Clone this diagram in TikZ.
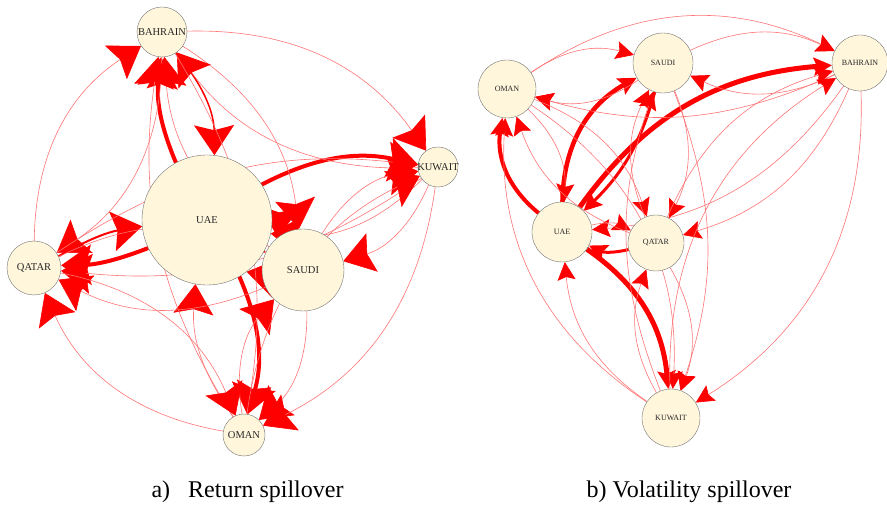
\documentclass[tikz,border=0pt]{standalone}
\usepackage{fontspec}
\setmainfont{Liberation Serif}
\usetikzlibrary{arrows.meta,backgrounds}

\definecolor{nodefill}{HTML}{FFF6DC}

\tikzset{
  country/.style={circle,draw=black!55,fill=nodefill,inner sep=0pt},
  spill/.style={draw=red!55,line width=.6pt},
  rethead/.style={spill,-{Stealth[color=red,length=30pt,width=40pt,inset=5pt]}},
  volhead/.style={spill,-{Stealth[color=red,length=18pt,width=18pt,inset=3pt]}},
  heavy/.style={draw=red,line width=#1},
}

\begin{document}
\begin{tikzpicture}[x=1pt,y=-1pt]
    \useasboundingbox (0,0) rectangle (887,505);

    % a) return spillover network
    \begin{scope}[every label/.style={font=\fontsize{10.5}{12}\selectfont,text=black!85}]
        \node[country,minimum size=50pt,label=center:BAHRAIN] (bahR) at (162,32) {};
        \node[country,minimum size=130pt,label=center:UAE] (uaeR) at (207,220) {};
        \node[country,minimum size=82pt,label=center:SAUDI] (sauR) at (303,270) {};
        \node[country,minimum size=40pt,label=center:KUWAIT] (kuwR) at (438,167) {};
        \node[country,minimum size=54pt,label=center:QATAR] (qatR) at (34,268) {};
        \node[country,minimum size=42pt,label=center:OMAN] (omaR) at (244,435) {};
    \end{scope}
    \begin{scope}[on background layer]
        \draw[rethead,heavy=4pt] (uaeR) to[bend left=15] (bahR);
        \draw[rethead,heavy=1.5pt] (bahR) to[bend left=20] (uaeR);
        \draw[rethead] (uaeR) to[bend left=25] (sauR);
        \draw[rethead] (sauR) to[bend left=25] (uaeR);
        \draw[rethead,heavy=4pt] (uaeR) to[bend left=20] (kuwR);
        \draw[rethead] (kuwR) to[bend left=25] (uaeR);
        \draw[rethead,heavy=4pt] (uaeR) to[bend left=10] (qatR);
        \draw[rethead,heavy=2pt] (qatR) to[bend left=10] (uaeR);
        \draw[rethead,heavy=4pt] (uaeR) to[bend left=20] (omaR);
        \draw[rethead] (omaR) to[bend left=20] (uaeR);
        \draw[rethead] (bahR) to[bend left=25] (sauR);
        \draw[rethead] (sauR) to[bend left=25] (bahR);
        \draw[rethead] (bahR) to[bend left=28] (kuwR);
        \draw[rethead] (kuwR) to[bend left=28] (bahR);
        \draw[rethead] (bahR) to[bend left=28] (qatR);
        \draw[rethead] (qatR) to[bend left=28] (bahR);
        \draw[rethead] (bahR) to[bend left=20] (omaR);
        \draw[rethead] (omaR) to[bend left=20] (bahR);
        \draw[rethead] (sauR) to[bend left=25] (kuwR);
        \draw[rethead] (kuwR) to[bend left=25] (sauR);
        \draw[rethead] (sauR) to[bend left=25] (qatR);
        \draw[rethead] (qatR) to[bend left=25] (sauR);
        \draw[rethead] (sauR) to[bend left=25] (omaR);
        \draw[rethead] (omaR) to[bend left=25] (sauR);
        \draw[rethead] (kuwR) to[bend left=20] (qatR);
        \draw[rethead] (qatR) to[bend left=20] (kuwR);
        \draw[rethead] (kuwR) to[bend left=28] (omaR);
        \draw[rethead] (omaR) to[bend left=28] (kuwR);
        \draw[rethead] (qatR) to[bend left=28] (omaR);
        \draw[rethead] (omaR) to[bend left=28] (qatR);
    \end{scope}

    % b) volatility spillover network
    \begin{scope}[every label/.style={font=\fontsize{8}{10}\selectfont,text=black!85}]
        \node[country,minimum size=58pt,label=center:OMAN] (omaV) at (507,89) {};
        \node[country,minimum size=60pt,label=center:SAUDI] (sauV) at (663,63) {};
        \node[country,minimum size=56pt,label=center:BAHRAIN] (bahV) at (860,63) {};
        \node[country,minimum size=60pt,label=center:UAE] (uaeV) at (562,232) {};
        \node[country,minimum size=56pt,label=center:QATAR] (qatV) at (656,243) {};
        \node[country,minimum size=58pt,label=center:KUWAIT] (kuwV) at (671,418) {};
    \end{scope}
    \begin{scope}[on background layer]
        \draw[volhead,heavy=4.5pt] (uaeV) to[bend left=30] (sauV);
        \draw[volhead,heavy=3pt] (sauV) to[bend left=15] (uaeV);
        \draw[volhead,heavy=5pt] (uaeV) to[bend left=25] (bahV);
        \draw[volhead] (bahV) to[bend left=25] (uaeV);
        \draw[volhead,heavy=4pt] (uaeV) to[bend left=30] (omaV);
        \draw[volhead] (omaV) to[bend left=25] (uaeV);
        \draw[volhead,heavy=5pt] (uaeV) to[bend left=25] (kuwV);
        \draw[volhead] (kuwV) to[bend left=25] (uaeV);
        \draw[volhead,heavy=3pt] (qatV) to[bend left=20] (uaeV);
        \draw[volhead] (uaeV) to[bend left=20] (qatV);
        \draw[volhead] (omaV) to[bend left=25] (sauV);
        \draw[volhead] (sauV) to[bend left=25] (omaV);
        \draw[volhead] (omaV) to[bend left=30] (bahV);
        \draw[volhead] (bahV) to[bend left=20] (omaV);
        \draw[volhead] (omaV) to[bend left=25] (qatV);
        \draw[volhead] (qatV) to[bend left=25] (omaV);
        \draw[volhead] (omaV) to[bend left=30] (kuwV);
        \draw[volhead] (kuwV) to[bend left=30] (omaV);
        \draw[volhead] (sauV) to[bend left=25] (bahV);
        \draw[volhead] (bahV) to[bend left=25] (sauV);
        \draw[volhead] (sauV) to[bend left=25] (qatV);
        \draw[volhead] (qatV) to[bend left=25] (sauV);
        \draw[volhead] (sauV) to[bend left=20] (kuwV);
        \draw[volhead] (kuwV) to[bend left=20] (sauV);
        \draw[volhead] (bahV) to[bend left=25] (qatV);
        \draw[volhead] (qatV) to[bend left=25] (bahV);
        \draw[volhead] (bahV) to[bend left=30] (kuwV);
        \draw[volhead] (kuwV) to[bend left=30] (bahV);
        \draw[volhead] (qatV) to[bend left=25] (kuwV);
        \draw[volhead] (kuwV) to[bend left=25] (qatV);
    \end{scope}

    % captions
    \node[anchor=base west,font=\fontsize{24}{28}\selectfont] (capR) at (148,497) {a)\hspace{0.75em}Return spillover};
    \node[anchor=base west,font=\fontsize{24}{28}\selectfont] (capV) at (583,497) {b) Volatility spillover};
\end{tikzpicture}
\end{document}
